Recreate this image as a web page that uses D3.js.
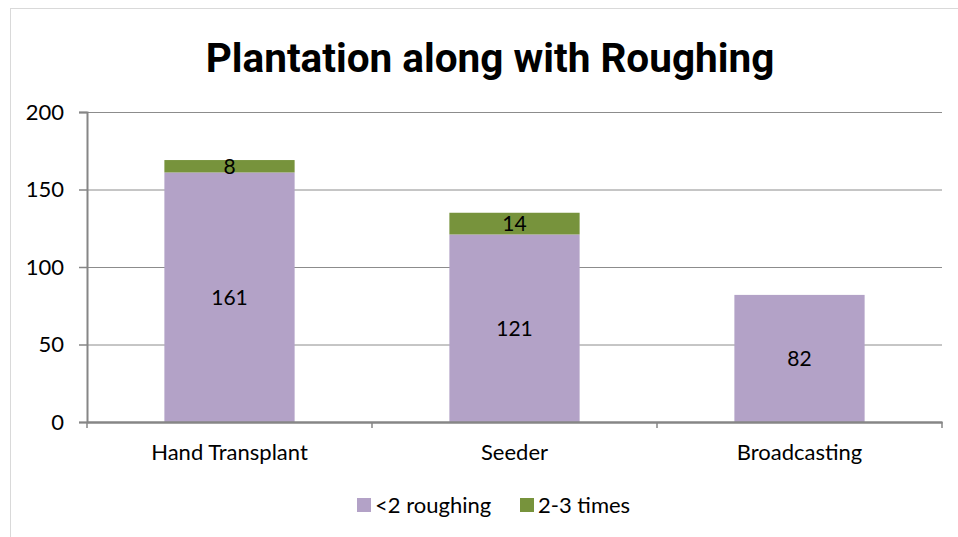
<!DOCTYPE html>
<html>
<head>
<meta charset="utf-8">
<script src="https://cdn.jsdelivr.net/npm/d3@7"></script>
<style>
  body { margin: 0; background: #fff; }
  text { font-family: Lato, "Noto Sans", sans-serif; fill: #000; }
</style>
</head>
<body>
<div id="chart"></div>
<script>
// Data
const categories = ["Hand Transplant", "Seeder", "Broadcasting"];
const seriesNames = ["<2 roughing", "2-3 times"];
const lessThanTwo = [161, 121, 82];
const twoToThree = [8, 14, 0];
const yTicks = [0, 50, 100, 150, 200];
const colors = ["#b3a2c7", "#77933c"];

const W = 958, H = 537;
const margin = { top: 112, right: 16, bottom: 115, left: 87 };
const width = W - margin.left - margin.right;
const height = H - margin.top - margin.bottom;

const svg = d3.select("#chart").append("svg")
    .attr("width", W)
    .attr("height", H);

// Outer chart border
svg.append("rect")
    .attr("x", 10.5).attr("y", 8.5)
    .attr("width", W).attr("height", H)
    .attr("fill", "none")
    .attr("stroke", "#d9d9d9");

svg.append("text")
    .attr("x", 490).attr("y", 72)
    .attr("text-anchor", "middle")
    .style("font-family", "Roboto, sans-serif")
    .style("font-weight", "bold")
    .style("font-size", "40.5px")
    .text("Plantation along with Roughing");

const g = svg.append("g")
    .attr("transform", `translate(${margin.left},${margin.top})`);

const x = d3.scaleBand().domain(categories).range([0, width]).paddingInner(0.543).paddingOuter(0.2715);
const y = d3.scaleLinear().domain([0, 200]).range([height, 0]);

// Gridlines
g.selectAll(".grid").data(yTicks).enter().append("line")
    .attr("x1", 0).attr("x2", width)
    .attr("y1", d => y(d) + 0.5).attr("y2", d => y(d) + 0.5)
    .attr("stroke", "#8c8c8c").attr("stroke-width", 1);

// Stacked data
const table = categories.map((c, i) => ({ cat: c, "<2 roughing": lessThanTwo[i], "2-3 times": twoToThree[i] }));
const stacked = d3.stack().keys(seriesNames)(table);

stacked.forEach((layer, li) => {
    g.selectAll(".bar" + li).data(layer).enter().append("rect")
        .attr("x", d => x(d.data.cat))
        .attr("width", x.bandwidth())
        .attr("y", d => y(d[1]))
        .attr("height", d => y(d[0]) - y(d[1]))
        .attr("fill", colors[li]);

    g.selectAll(".lbl" + li).data(layer.filter(d => d[1] - d[0] > 0)).enter().append("text")
        .attr("x", d => x(d.data.cat) + x.bandwidth() / 2)
        .attr("y", d => (y(d[0]) + y(d[1])) / 2)
        .attr("dy", "0.36em")
        .attr("text-anchor", "middle")
        .style("font-size", "21px")
        .text(d => d[1] - d[0]);
});

// Y axis
const yAxis = g.append("g")
    .call(d3.axisLeft(y).tickValues(yTicks).tickSize(8).tickPadding(15));
yAxis.select(".domain").attr("stroke", "#868686").attr("stroke-width", 2);
yAxis.selectAll(".tick line").attr("stroke", "#868686").attr("stroke-width", 1.5);
yAxis.selectAll(".tick text").style("font-size", "22px").attr("fill", "#000");

// X axis
const xAxis = g.append("g")
    .attr("transform", `translate(0,${height})`)
    .call(d3.axisBottom(x).tickSize(0).tickPadding(22));
xAxis.select(".domain").attr("stroke", "#868686").attr("stroke-width", 2.5);
xAxis.selectAll(".tick text").style("font-size", "22px").attr("fill", "#000");
// category boundary ticks
const step = width / categories.length;
g.selectAll(".xtick").data(d3.range(categories.length + 1)).enter().append("line")
    .attr("x1", d => d * step).attr("x2", d => d * step)
    .attr("y1", height).attr("y2", height + 6)
    .attr("stroke", "#868686").attr("stroke-width", 1.5);

// Legend
const legendX = [357, 520];
const legend = svg.selectAll(".legend").data(seriesNames).enter().append("g")
    .attr("transform", (d, i) => `translate(${legendX[i]},498)`);
legend.append("rect")
    .attr("width", 14).attr("height", 14)
    .attr("fill", (d, i) => colors[i]);
legend.append("text")
    .attr("x", 18).attr("y", 7).attr("dy", "0.36em")
    .style("font-size", "22px")
    .text(d => d);
</script>
</body>
</html>
